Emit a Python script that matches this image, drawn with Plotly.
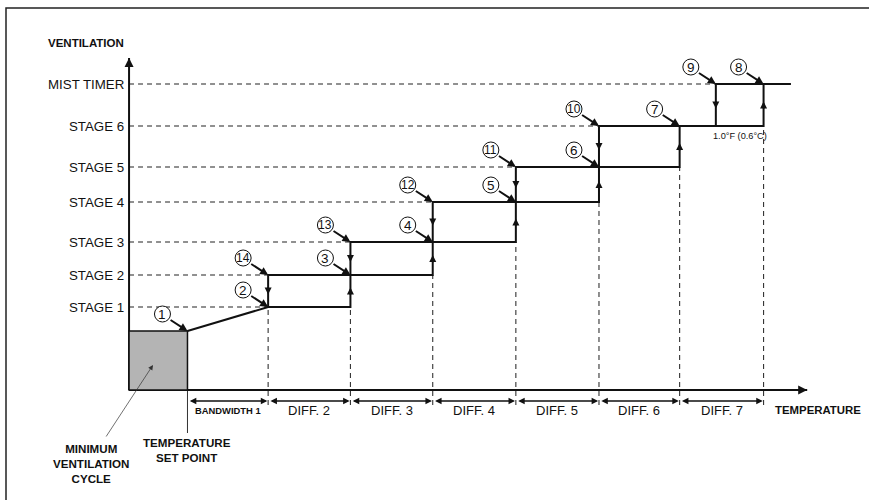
import plotly.graph_objects as go

# ---------------- data ----------------
stage_names = ["STAGE 1", "STAGE 2", "STAGE 3", "STAGE 4", "STAGE 5", "STAGE 6", "MIST TIMER"]
stage_levels = [8.3, 11.5, 14.8, 18.8, 22.3, 26.4, 30.6]          # ventilation level
stage_on = [0.98, 1.98, 2.98, 3.99, 5.0, 5.98, 7.0]                 # temperature (diff units above set point)
stage_off = [None, 0.98, 1.98, 2.98, 3.99, 5.0, 6.42]
set_point = 0.0
min_vent_level = 5.9
mist_end = 7.33
diff_labels = ["BANDWIDTH 1", "DIFF. 2", "DIFF. 3", "DIFF. 4", "DIFF. 5", "DIFF. 6", "DIFF. 7"]
# circled step numbers: (label, temperature, level)
step_points = [("1", set_point, min_vent_level)] + \
    [(str(i + 2), stage_on[i], stage_levels[i]) for i in range(7)] + \
    [(str(15 - i), stage_off[i], stage_levels[i]) for i in range(6, 0, -1)]

# ---------------- geometry / style ----------------
YAX_X = -0.71
X_END = 7.53
Y_TOP = 33.2
X_RANGE = [-2.278, 8.281]
Y_RANGE = [-11.0, 39.0]
BLACK = "#111111"
BOLD = "Liberation Sans, Arial, sans-serif"
REG = "Liberation Sans, Arial, sans-serif"

fig = go.Figure()


def line(xs, ys, width=2.0, dash=None, color=BLACK):
    fig.add_trace(go.Scatter(x=xs, y=ys, mode="lines", hoverinfo="skip", showlegend=False,
                             line=dict(color=color, width=width, dash=dash)))


# dashed guides: horizontal from y-axis to each stage's first point
for i, lv in enumerate(stage_levels):
    xe = stage_on[0] if stage_off[i] is None else stage_off[i]
    line([YAX_X, xe], [lv, lv], width=1.1, dash="5px,4px", color="#222222")
# dashed guides: vertical from below x-axis up to each switch-on point
for i, xo in enumerate(stage_on):
    top = stage_levels[0] if i == 0 else stage_levels[i - 1]
    line([xo, xo], [-1.5, top], width=1.1, dash="5px,4px", color="#333333")

# minimum ventilation box
fig.add_shape(type="rect", x0=YAX_X, x1=set_point, y0=0, y1=min_vent_level,
              fillcolor="#b4b4b4", line=dict(color=BLACK, width=1.5), layer="above")
# set point line
line([set_point, set_point], [0, -4.3], width=1.0, color="#333333")

# heating path (staircase going up)
hx = [set_point, stage_on[0]]
hy = [min_vent_level, stage_levels[0]]
for i in range(1, 7):
    hx += [stage_on[i], stage_on[i]]
    hy += [stage_levels[i - 1], stage_levels[i]]
hx.append(mist_end)
hy.append(stage_levels[6])
line(hx, hy, width=2.0)

# cooling path (staircase going down)
cx = [mist_end]
cy = [stage_levels[6]]
for i in range(6, 0, -1):
    cx += [stage_off[i], stage_off[i]]
    cy += [stage_levels[i], stage_levels[i - 1]]
line(cx, cy, width=2.0)

# axes
line([YAX_X, X_END], [0, 0], width=2.2)
line([YAX_X, YAX_X], [0, Y_TOP], width=2.0)

ann = []
# axis arrowheads
ann.append(dict(x=X_END, y=0, ax=-10, ay=0, text="", showarrow=True, arrowhead=2,
                arrowsize=0.9, arrowwidth=2, arrowcolor=BLACK))
ann.append(dict(x=YAX_X, y=Y_TOP, ax=0, ay=10, text="", showarrow=True, arrowhead=2,
                arrowsize=0.9, arrowwidth=2, arrowcolor=BLACK))

# small direction arrowheads on vertical segments
for i in range(1, 7):
    mid = (stage_levels[i - 1] + stage_levels[i]) / 2
    ann.append(dict(x=stage_on[i], y=mid + 0.35, ax=0, ay=9, text="", showarrow=True,
                    arrowhead=2, arrowsize=1.0, arrowwidth=1.4, arrowcolor=BLACK))
    ann.append(dict(x=stage_off[i], y=mid - 0.35, ax=0, ay=-9, text="", showarrow=True,
                    arrowhead=2, arrowsize=1.0, arrowwidth=1.4, arrowcolor=BLACK))

# double arrows for differentials
bounds = [set_point] + stage_on
for k in range(7):
    a, b = bounds[k], bounds[k + 1]
    ann.append(dict(x=b - 0.01, y=-1.1, ax=a + 0.01, ay=-1.1, axref="x", ayref="y", text="",
                    showarrow=True, arrowhead=2, arrowside="end+start", arrowsize=1.0,
                    arrowwidth=1.3, arrowcolor=BLACK))
    bold = k == 0
    ann.append(dict(x=(a + b) / 2, y=-2.05, text=("<b>%s</b>" % diff_labels[k]) if bold else diff_labels[k],
                    showarrow=False, font=dict(family=BOLD if bold else REG,
                                               size=9.4 if bold else 13, color=BLACK)))

# circled numbers with pointer arrows
DX, DY, R = -25, 17, 8.0
for lab, tx, ty in step_points:
    fig.add_shape(type="circle", xref="x", yref="y", xsizemode="pixel", ysizemode="pixel",
                  xanchor=tx, yanchor=ty, x0=DX - R, x1=DX + R, y0=DY - R, y1=DY + R,
                  line=dict(color=BLACK, width=1.0), fillcolor="white", layer="above")
    ann.append(dict(x=tx, y=ty, xshift=DX, yshift=DY, text=lab, showarrow=False,
                    font=dict(family=REG, size=13.5 if len(lab) == 1 else 12, color=BLACK)))
    ann.append(dict(x=tx, y=ty, ax=-18.4, ay=-12.0, text="", showarrow=True, arrowhead=2,
                    arrowsize=0.8, arrowwidth=2.0, arrowcolor=BLACK, standoff=0))

# stage labels
for name, lv in zip(stage_names, stage_levels):
    ann.append(dict(x=YAX_X, y=lv, xshift=-3, text=name, showarrow=False, xanchor="right",
                    font=dict(family=REG, size=13.3, color=BLACK)))

# titles / notes
ann.append(dict(x=YAX_X, y=(390 - 43) / 10, xshift=-43, text="<b>VENTILATION</b>", showarrow=False,
                font=dict(family=BOLD, size=11.5, color=BLACK)))
ann.append(dict(x=7.66, y=-1.95, text="<b>TEMPERATURE</b>", showarrow=False,
                font=dict(family=BOLD, size=11.4, color=BLACK)))
ann.append(dict(x=set_point, y=-6.0, text="<b>TEMPERATURE<br>SET POINT</b>", showarrow=False,
                font=dict(family=BOLD, size=11.6, color=BLACK)))
ann.append(dict(x=-1.17, y=-7.3, text="<b>MINIMUM<br>VENTILATION<br>CYCLE</b>", showarrow=False,
                font=dict(family=BOLD, size=11.6, color=BLACK)))
ann.append(dict(x=-0.419, y=2.5, ax=-1.0, ay=-4.8, axref="x", ayref="y", text="", showarrow=True,
                arrowhead=2, arrowsize=1.4, arrowwidth=0.7, arrowcolor="#333333"))
ann.append(dict(x=(stage_off[6] + stage_on[6]) / 2, y=stage_levels[5], yshift=-10,
                text="1.0°F (0.6°C)", showarrow=False,
                font=dict(family=REG, size=9.2, color=BLACK)))

# outer frame
fig.add_shape(type="rect", xref="paper", yref="paper", x0=6 / 869, x1=1.02, y0=-0.02, y1=1 - 8 / 500,
              line=dict(color="#222222", width=1.5))

fig.update_layout(
    width=869, height=500, margin=dict(l=0, r=0, t=0, b=0),
    paper_bgcolor="white", plot_bgcolor="white",
    xaxis=dict(visible=False, range=X_RANGE, fixedrange=True),
    yaxis=dict(visible=False, range=Y_RANGE, fixedrange=True),
    annotations=ann, showlegend=False,
)
fig.write_html("out.html", config={"displayModeBar": False},
               post_script="document.body.style.margin='0';document.body.style.overflow='hidden';")
